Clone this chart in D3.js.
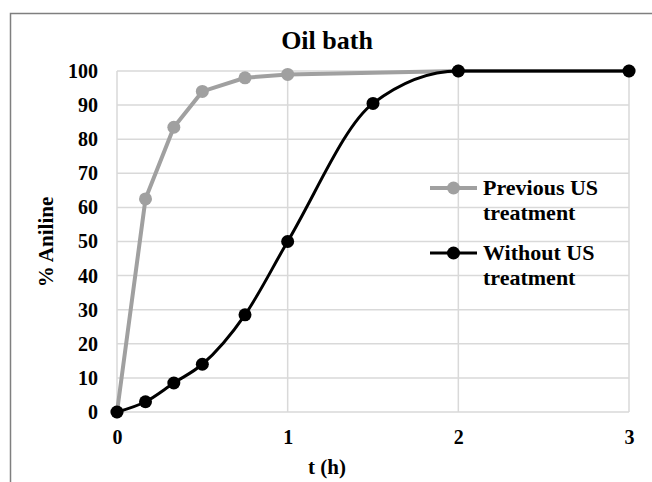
<!DOCTYPE html>
<html>
<head>
<meta charset="utf-8">
<script src="https://cdn.jsdelivr.net/npm/d3@7"></script>
<style>
  body { margin: 0; background: #fff; }
  text { font-family: "Liberation Serif", "Times New Roman", serif; font-weight: bold; fill: #000; }
</style>
</head>
<body>
<div id="chart-area"></div>
<script>
// data
var chartTitle = "Oil bath"
var xTicks = [0, 1, 2, 3]
var yTicks = [0, 10, 20, 30, 40, 50, 60, 70, 80, 90, 100]

var prevTimes = [0, 0.167, 0.333, 0.5, 0.75, 1, 2, 3]
var prevValues = [0, 62.5, 83.5, 94, 98, 99, 100, 100]

var withoutTimes = [0, 0.167, 0.333, 0.5, 0.75, 1, 1.5, 2, 3]
var withoutValues = [0, 3, 8.5, 14, 28.5, 50, 90.5, 100, 100]

var seriesNames = ["Previous US treatment", "Without US treatment"]

var svgWidth = 652, svgHeight = 482
var margin = {top: 71, right: 23, bottom: 70, left: 117}
var chartWidth = svgWidth - margin.left - margin.right
var chartHeight = svgHeight - margin.top - margin.bottom

var svg = d3.select("#chart-area").append("svg")
    .attr("width", svgWidth)
    .attr("height", svgHeight)

// outer frame (only top and left edges show in the crop)
svg.append("path")
    .attr("d", "M10.5,482 V13.5 H652")
    .attr("fill", "none")
    .attr("stroke", "#7f7f7f")
    .attr("stroke-width", 1.5)

var chartGroup = svg.append("g")
    .attr("transform", `translate(${margin.left},${margin.top})`)

var xScale = d3.scaleLinear().domain([0, 3]).range([0, chartWidth])
var yScale = d3.scaleLinear().domain([0, 100]).range([chartHeight, 0])

// gridlines
chartGroup.append("g")
    .selectAll("line")
    .data(yTicks)
    .enter().append("line")
    .attr("x1", 0).attr("x2", chartWidth)
    .attr("y1", d => yScale(d)).attr("y2", d => yScale(d))
    .attr("stroke", "#d9d9d9").attr("stroke-width", 1.5)

chartGroup.append("g")
    .selectAll("line")
    .data(xTicks)
    .enter().append("line")
    .attr("x1", d => xScale(d)).attr("x2", d => xScale(d))
    .attr("y1", 0).attr("y2", chartHeight)
    .attr("stroke", "#d9d9d9").attr("stroke-width", 1.5)

// axes (labels only)
var leftAxis = d3.axisLeft(yScale).tickValues(yTicks).tickFormat(d3.format("d")).tickSize(0).tickPadding(19)
var botAxis = d3.axisBottom(xScale).tickValues(xTicks).tickFormat(d3.format("d")).tickSize(0).tickPadding(18)

var yAxis = chartGroup.append("g").call(leftAxis)
var xAxis = chartGroup.append("g").attr("transform", `translate(0,${chartHeight})`).call(botAxis)
yAxis.select(".domain").remove()
xAxis.select(".domain").remove()
chartGroup.selectAll(".tick text")
    .attr("font-size", "20px")
    .attr("fill", "#000")

// series
var prevData = prevTimes.map((t, i) => ({t: t, v: prevValues[i]}))
var withoutData = withoutTimes.map((t, i) => ({t: t, v: withoutValues[i]}))

var straight = d3.line().x(d => xScale(d.t)).y(d => yScale(d.v))
var smooth = d3.line().x(d => xScale(d.t)).y(d => yScale(d.v)).curve(d3.curveMonotoneX)

chartGroup.append("path")
    .datum(prevData)
    .attr("d", straight)
    .attr("fill", "none")
    .attr("stroke", "#a0a0a0")
    .attr("stroke-width", 4)

chartGroup.append("g")
    .selectAll("circle")
    .data(prevData)
    .enter().append("circle")
    .attr("cx", d => xScale(d.t))
    .attr("cy", d => yScale(d.v))
    .attr("r", 6.5)
    .attr("fill", "#a0a0a0")

chartGroup.append("path")
    .datum(withoutData)
    .attr("d", smooth)
    .attr("fill", "none")
    .attr("stroke", "#000")
    .attr("stroke-width", 3)

chartGroup.append("g")
    .selectAll("circle")
    .data(withoutData)
    .enter().append("circle")
    .attr("cx", d => xScale(d.t))
    .attr("cy", d => yScale(d.v))
    .attr("r", 6.5)
    .attr("fill", "#000")

// title and axis titles
svg.append("text")
    .attr("x", 327).attr("y", 49)
    .attr("text-anchor", "middle")
    .attr("font-size", "26px")
    .text(chartTitle)

svg.append("text")
    .attr("x", 327).attr("y", 474)
    .attr("text-anchor", "middle")
    .attr("font-size", "21px")
    .text("t (h)")

svg.append("text")
    .attr("transform", "translate(53,242) rotate(-90)")
    .attr("text-anchor", "middle")
    .attr("font-size", "21px")
    .text("% Aniline")

// legend
var legendColors = ["#a0a0a0", "#000"]
var legendWidths = [4, 3]
var legend = svg.append("g").attr("transform", "translate(430,188)")
seriesNames.forEach((name, i) => {
    var g = legend.append("g").attr("transform", `translate(0,${i * 65})`)
    g.append("line")
        .attr("x1", 0).attr("x2", 47)
        .attr("stroke", legendColors[i]).attr("stroke-width", legendWidths[i])
    g.append("circle")
        .attr("cx", 23.5).attr("r", 6.5).attr("fill", legendColors[i])
    var words = name.split(" ")
    var t = g.append("text").attr("x", 53).attr("y", 7).attr("font-size", "22px")
    t.append("tspan").attr("x", 53).text(words.slice(0, 2).join(" "))
    t.append("tspan").attr("x", 53).attr("dy", 25).text(words.slice(2).join(" "))
})
</script>
</body>
</html>
